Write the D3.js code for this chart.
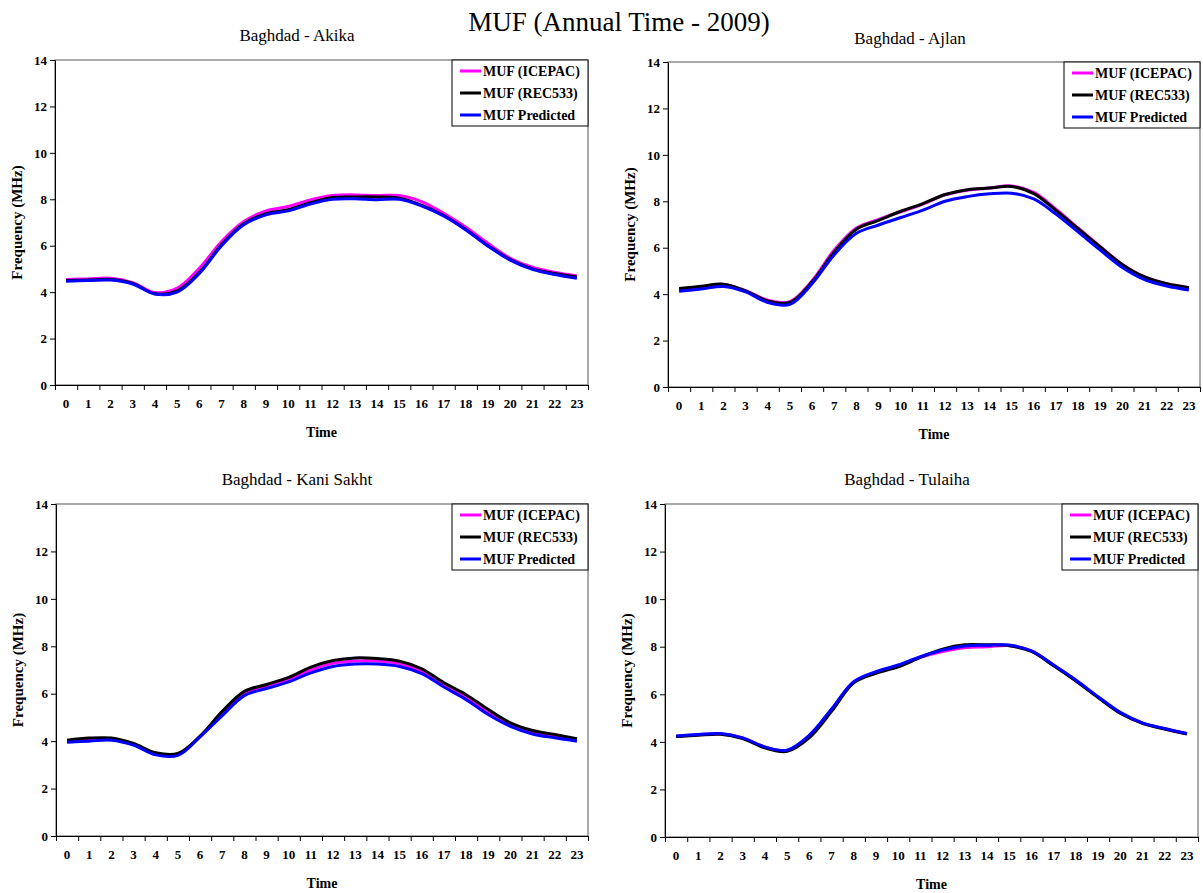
<!DOCTYPE html>
<html>
<head>
<meta charset="utf-8">
<script src="https://cdn.jsdelivr.net/npm/d3@7"></script>
<style>
  body { margin: 0; background: #fff; }
  svg { display: block; font-family: "Liberation Serif", "Times New Roman", serif; }
</style>
</head>
<body>
<svg id="chart" width="1203" height="893"></svg>
<script>
// hours on the x axis
const hours = d3.range(0, 24);
const yTicks = [0, 2, 4, 6, 8, 10, 12, 14];
const seriesNames = ['MUF (ICEPAC)', 'MUF (REC533)', 'MUF Predicted'];
const seriesColors = ['#ff00ff', '#000000', '#0000ff'];

// Baghdad - Akika
const akikaIcepac = [4.55, 4.57, 4.6, 4.41, 3.98, 4.17, 5.03, 6.18, 7.04, 7.5, 7.69, 7.97, 8.16, 8.19, 8.16, 8.16, 7.9, 7.4, 6.8, 6.1, 5.46, 5.07, 4.86, 4.7];
const akikaRec533 = [4.5, 4.52, 4.55, 4.38, 3.93, 4.05, 4.85, 6.05, 6.95, 7.38, 7.55, 7.85, 8.08, 8.1, 8.1, 8.05, 7.75, 7.3, 6.7, 6.0, 5.4, 5.0, 4.8, 4.65];
const akikaPred = [4.47, 4.5, 4.52, 4.35, 3.92, 4.0, 4.8, 6.0, 6.9, 7.33, 7.5, 7.8, 8.0, 8.02, 7.98, 8.0, 7.72, 7.28, 6.68, 5.98, 5.38, 4.98, 4.76, 4.6];

// Baghdad - Ajlan
const ajlanIcepac = [4.22, 4.32, 4.42, 4.15, 3.74, 3.68, 4.58, 5.9, 6.85, 7.22, 7.55, 7.88, 8.28, 8.48, 8.57, 8.66, 8.38, 7.66, 6.85, 6.05, 5.28, 4.74, 4.45, 4.28];
const ajlanRec533 = [4.24, 4.34, 4.43, 4.14, 3.71, 3.64, 4.53, 5.82, 6.8, 7.18, 7.57, 7.9, 8.29, 8.5, 8.57, 8.64, 8.33, 7.61, 6.82, 6.03, 5.27, 4.74, 4.45, 4.28];
const ajlanPred = [4.12, 4.22, 4.33, 4.1, 3.64, 3.56, 4.45, 5.7, 6.62, 6.98, 7.3, 7.62, 8.0, 8.2, 8.32, 8.35, 8.1, 7.45, 6.68, 5.9, 5.15, 4.63, 4.35, 4.18];

// Baghdad - Kani Sakht
const kaniIcepac = [3.98, 4.06, 4.08, 3.85, 3.46, 3.45, 4.2, 5.15, 6.0, 6.3, 6.6, 7.0, 7.28, 7.38, 7.38, 7.27, 6.95, 6.38, 5.86, 5.22, 4.7, 4.38, 4.2, 4.04];
const kaniRec533 = [4.04, 4.13, 4.13, 3.9, 3.51, 3.48, 4.21, 5.26, 6.1, 6.39, 6.69, 7.12, 7.4, 7.51, 7.48, 7.37, 7.05, 6.46, 5.96, 5.33, 4.77, 4.45, 4.28, 4.1];
const kaniPred = [3.95, 4.0, 4.04, 3.83, 3.42, 3.4, 4.18, 5.08, 5.92, 6.22, 6.5, 6.88, 7.15, 7.25, 7.25, 7.15, 6.85, 6.28, 5.75, 5.12, 4.62, 4.3, 4.14, 4.0];

// Baghdad - Tulaiha
const tulaihaIcepac = [4.23, 4.3, 4.34, 4.16, 3.78, 3.64, 4.25, 5.35, 6.52, 6.93, 7.2, 7.55, 7.8, 7.96, 8.0, 8.05, 7.82, 7.22, 6.58, 5.88, 5.22, 4.79, 4.55, 4.34];
const tulaihaRec533 = [4.22, 4.28, 4.32, 4.14, 3.75, 3.6, 4.18, 5.28, 6.48, 6.88, 7.15, 7.55, 7.9, 8.08, 8.08, 8.04, 7.8, 7.2, 6.56, 5.86, 5.2, 4.78, 4.54, 4.33];
const tulaihaPred = [4.25, 4.31, 4.35, 4.17, 3.79, 3.65, 4.28, 5.38, 6.53, 6.95, 7.23, 7.58, 7.86, 8.03, 8.06, 8.07, 7.82, 7.23, 6.6, 5.9, 5.24, 4.8, 4.56, 4.35];

const panels = [
  {title: 'Baghdad - Akika', series: [akikaIcepac, akikaRec533, akikaPred], box: {l: 55, r: 588, t: 60, b: 385}, tx: 297, ty: 41},
  {title: 'Baghdad - Ajlan', series: [ajlanIcepac, ajlanRec533, ajlanPred], box: {l: 668, r: 1200, t: 62, b: 387}, tx: 910, ty: 44},
  {title: 'Baghdad - Kani Sakht', series: [kaniIcepac, kaniRec533, kaniPred], box: {l: 56, r: 588, t: 504, b: 836}, tx: 297, ty: 485},
  {title: 'Baghdad - Tulaiha', series: [tulaihaIcepac, tulaihaRec533, tulaihaPred], box: {l: 665, r: 1198, t: 504, b: 837}, tx: 907, ty: 485}
];

const svg = d3.select('#chart');

svg.append('text')
  .attr('x', 619).attr('y', 31)
  .attr('text-anchor', 'middle')
  .attr('font-size', 27)
  .text('MUF (Annual Time - 2009)');

panels.forEach(function(p) {
  const b = p.box;
  const g = svg.append('g');

  const x = d3.scaleBand().domain(hours).range([b.l, b.r]);
  const xTick = d3.scaleLinear().domain([0, 24]).range([b.l, b.r]);
  const y = d3.scaleLinear().domain([0, 14]).range([b.b, b.t]);

  g.append('text')
    .attr('x', p.tx).attr('y', p.ty)
    .attr('text-anchor', 'middle')
    .attr('font-size', 17)
    .text(p.title);

  // plot frame
  g.append('rect')
    .attr('x', b.l).attr('y', b.t)
    .attr('width', b.r - b.l).attr('height', b.b - b.t)
    .attr('fill', 'none').attr('stroke', '#555').attr('stroke-width', 1);

  // y axis
  const ya = g.append('g')
    .attr('transform', 'translate(' + b.l + ',0)')
    .call(d3.axisLeft(y).tickValues(yTicks).tickSize(5).tickPadding(3).tickSizeOuter(0));
  ya.select('.domain').attr('stroke', '#000');
  ya.selectAll('text').attr('font-size', 13).attr('font-weight', 'bold').attr('font-family', 'Liberation Serif, serif');

  // x axis: ticks on hour boundaries, labels in the middle
  const xa = g.append('g')
    .attr('transform', 'translate(0,' + b.b + ')')
    .call(d3.axisBottom(xTick).tickValues(d3.range(0, 25)).tickSize(5).tickFormat('').tickSizeOuter(0));
  xa.select('.domain').attr('stroke', '#000');

  const xl = g.append('g')
    .attr('transform', 'translate(0,' + (b.b + 14) + ')')
    .call(d3.axisBottom(x).tickSize(0).tickPadding(0));
  xl.select('.domain').remove();
  xl.selectAll('text').attr('font-size', 13).attr('font-weight', 'bold').attr('font-family', 'Liberation Serif, serif');

  g.append('text')
    .attr('x', (b.l + b.r) / 2).attr('y', b.b + 52)
    .attr('text-anchor', 'middle')
    .attr('font-size', 14).attr('font-weight', 'bold')
    .text('Time');

  g.append('text')
    .attr('transform', 'translate(' + (b.l - 33) + ',' + ((b.t + b.b) / 2) + ') rotate(-90)')
    .attr('text-anchor', 'middle')
    .attr('font-size', 15).attr('font-weight', 'bold')
    .text('Frequency (MHz)');

  const line = d3.line()
    .x(function(d, i) { return x(hours[i]) + x.bandwidth() / 2; })
    .y(function(d) { return y(d); })
    .curve(d3.curveCatmullRom.alpha(0.5));

  p.series.forEach(function(vals, k) {
    g.append('path')
      .datum(vals)
      .attr('fill', 'none')
      .attr('stroke', seriesColors[k])
      .attr('stroke-width', 3)
      .attr('d', line);
  });

  // legend
  const lw = 136, lh = 66;
  const lg = g.append('g').attr('transform', 'translate(' + (b.r - lw) + ',' + b.t + ')');
  lg.append('rect')
    .attr('width', lw).attr('height', lh)
    .attr('fill', '#fff').attr('stroke', '#000').attr('stroke-width', 1);
  seriesNames.forEach(function(name, k) {
    const yy = 11 + k * 22;
    lg.append('line')
      .attr('x1', 8).attr('x2', 29).attr('y1', yy).attr('y2', yy)
      .attr('stroke', seriesColors[k]).attr('stroke-width', 3);
    lg.append('text')
      .attr('x', 31).attr('y', yy + 5)
      .attr('font-size', 14).attr('font-weight', 'bold')
      .text(name);
  });
});
</script>
</body>
</html>
